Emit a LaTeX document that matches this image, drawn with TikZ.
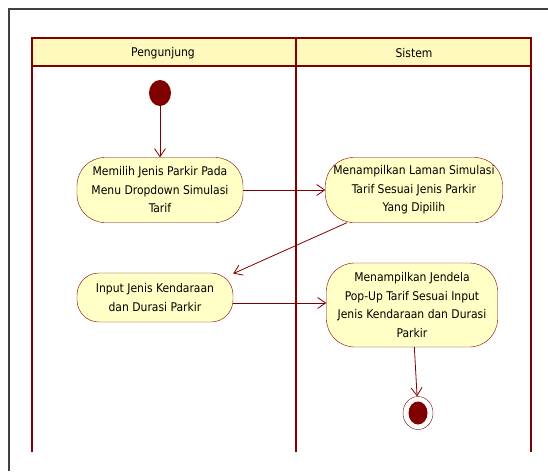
\documentclass[tikz,border=0pt]{standalone}
\usepackage{fontspec}
\setmainfont{DejaVu Sans Condensed}
\usepackage{xcolor}
\usetikzlibrary{arrows.meta,shapes.geometric}
\definecolor{lanered}{HTML}{800000}
\definecolor{headfill}{HTML}{FFF9BE}
\definecolor{actfill}{HTML}{FFFFC6}

\begin{document}
\begin{tikzpicture}[x=1pt,y=-1pt,
  act/.style={draw=lanered,fill=actfill,rounded corners=28pt,align=center,inner sep=1pt,
    font=\fontsize{12}{18.5}\selectfont},
  flow/.style={-{Straight Barb[length=8pt,width=11pt]},lanered,line width=0.8pt}]
  \useasboundingbox (0,0) rectangle (548,471);
  \draw[black!75,line width=1.4pt] (9,471) -- (9,9) -- (548,9);

  \fill[headfill] (32,38) rectangle (531,66);
  \draw[lanered,line width=1.8pt] (32,452) -- (32,38) -- (531,38) -- (531,452);
  \draw[lanered,line width=1.8pt] (32,66) -- (531,66);
  \draw[lanered,line width=2.8pt] (296,38) -- (296,452);
  \node[font=\fontsize{12}{14}\selectfont] (h1) at (163,53) {Pengunjung};
  \node[font=\fontsize{12}{14}\selectfont] (h2) at (414,53) {Sistem};

  \node[ellipse,fill=lanered,minimum width=22,minimum height=26,inner sep=0pt] (s0) at (160,93) {};
  \node[act,minimum width=166,minimum height=65] (a1) at (160,190) {Memilih Jenis Parkir Pada\\Menu Dropdown Simulasi\\Tarif};
  \node[act,minimum width=177,minimum height=65] (a2) at (414,190) {Menampilkan Laman Simulasi\\Tarif Sesuai Jenis Parkir\\Yang Dipilih};
  \node[act,rounded corners=22pt,minimum width=156,minimum height=49] (a3) at (155,297.5) {Input Jenis Kendaraan\\dan Durasi Parkir};
  \node[act,minimum width=171,minimum height=84] (a4) at (412,305) {Menampilkan Jendela\\Pop-Up Tarif Sesuai Input\\Jenis Kendaraan dan Durasi\\Parkir};
  \node[ellipse,draw=lanered,fill=white,minimum width=30,minimum height=33,inner sep=0pt] (e0) at (418,413) {};
  \node[ellipse,fill=lanered,minimum width=19,minimum height=23,inner sep=0pt] (e1) at (e0) {};

  \draw[flow] (s0) -- (a1);
  \draw[flow] (a1) -- (a2);
  \draw[flow] (a2.206) -- (a3.17);
  \draw[flow] (a3.-4) -- (a3.-4 -| a4.west);
  \draw[flow] (a4) -- (e0);
\end{tikzpicture}
\end{document}
